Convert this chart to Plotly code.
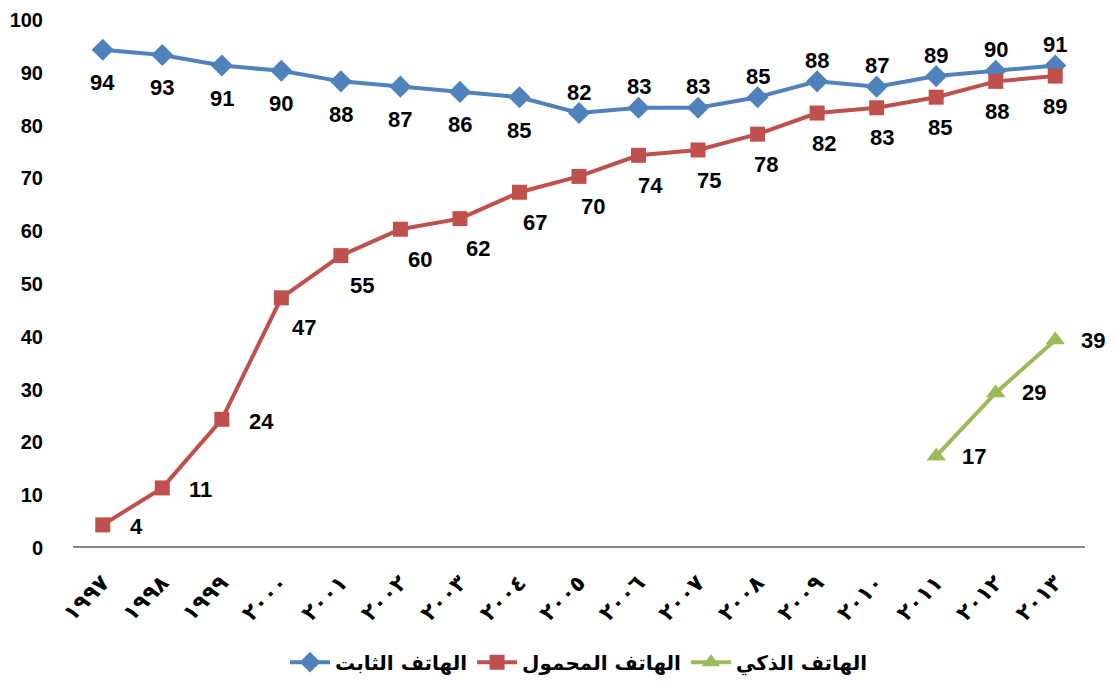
import plotly.graph_objects as go

years = ["١٩٩٧", "١٩٩٨", "١٩٩٩", "٢٠٠٠", "٢٠٠١", "٢٠٠٢", "٢٠٠٣", "٢٠٠٤", "٢٠٠٥",
         "٢٠٠٦", "٢٠٠٧", "٢٠٠٨", "٢٠٠٩", "٢٠١٠", "٢٠١١", "٢٠١٢", "٢٠١٣"]
landline = [94, 93, 91, 90, 88, 87, 86, 85, 82, 83, 83, 85, 88, 87, 89, 90, 91]
mobile = [4, 11, 24, 47, 55, 60, 62, 67, 70, 74, 75, 78, 82, 83, 85, 88, 89]
smart_years = ["٢٠١١", "٢٠١٢", "٢٠١٣"]
smart = [17, 29, 39]

names = ["الهاتف الثابت", "الهاتف المحمول", "الهاتف الذكي"]
colors = ["#4F81BD", "#C0504D", "#9BBB59"]

label_font = dict(family="Liberation Sans, Arial, sans-serif", size=22, color="black", weight="bold")

fig = go.Figure()
fig.add_trace(go.Scatter(
    x=years, y=landline, name=names[0], mode="lines+markers",
    line=dict(color=colors[0], width=4),
    marker=dict(symbol="diamond", size=17, color=colors[0]),
    cliponaxis=False,
))
fig.add_trace(go.Scatter(
    x=years, y=mobile, name=names[1], mode="lines+markers",
    line=dict(color=colors[1], width=4),
    marker=dict(symbol="square", size=15, color=colors[1]),
    cliponaxis=False,
))
fig.add_trace(go.Scatter(
    x=smart_years, y=smart, name=names[2], mode="lines+markers",
    line=dict(color=colors[2], width=4),
    marker=dict(symbol="triangle-up", size=17, color=colors[2]),
    cliponaxis=False,
))

# data labels (placed relative to each point through the axes)
annotations = []
n = len(years)
for i, (yr, v) in enumerate(zip(years, landline)):
    below = i < 8
    annotations.append(dict(x=yr, y=v, xref="x", yref="y", text=str(v), showarrow=False,
                            font=label_font, yshift=-33 if below else 21))
for i, (yr, v) in enumerate(zip(years, mobile)):
    if i < 3:
        annotations.append(dict(x=yr, y=v, xref="x", yref="y", text=str(v), showarrow=False,
                                font=label_font, xanchor="left", xshift=25, yshift=-2))
    else:
        xs = 23 * (n - 1 - i) / (n - 4)
        annotations.append(dict(x=yr, y=v, xref="x", yref="y", text=str(v), showarrow=False,
                                font=label_font, xshift=xs, yshift=-30))
for yr, v in zip(smart_years, smart):
    annotations.append(dict(x=yr, y=v, xref="x", yref="y", text=str(v), showarrow=False,
                            font=label_font, xanchor="left", xshift=24))

fig.update_layout(
    width=1107, height=677,
    margin=dict(l=65, r=30, t=10, b=139, autoexpand=False),
    paper_bgcolor="white", plot_bgcolor="white",
    showlegend=True,
    annotations=annotations,
    legend=dict(orientation="h", x=0.5, xanchor="center", y=-0.22, yanchor="middle",
                itemwidth=40,
                font=dict(family="DejaVu Sans, sans-serif", size=20, color="black", weight="bold")),
    xaxis=dict(type="category", categoryorder="array", categoryarray=years,
               range=[-0.5, 16.5], showgrid=False, zeroline=False,
               showline=True, linecolor="#868686", linewidth=2, ticks="",
               tickangle=-45, ticklabelstandoff=13,
               tickfont=dict(family="DejaVu Sans, sans-serif", size=22, color="black", weight="bold")),
    yaxis=dict(range=[0, 100], dtick=10, showgrid=False, zeroline=False, showline=False,
               ticks="", ticklabelstandoff=29, ticklabeloverflow="allow", ticklabelshift=2,
               tickfont=dict(family="Liberation Sans, Arial, sans-serif", size=20, color="black", weight="bold")),
)

fig.write_html("out.html")
